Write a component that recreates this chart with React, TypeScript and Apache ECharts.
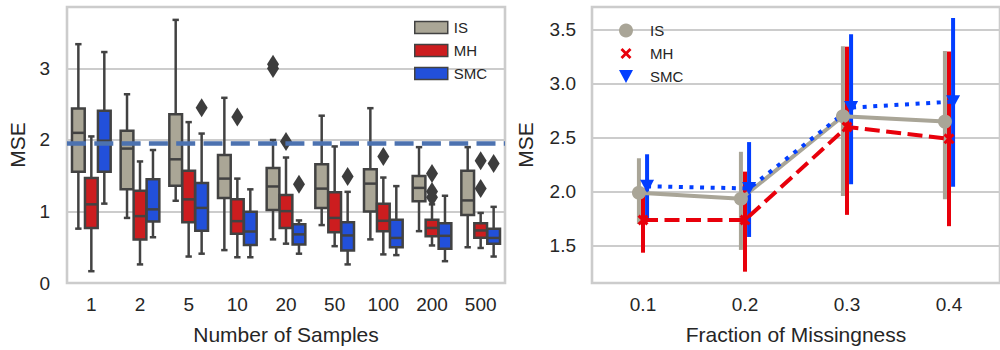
import React, { useEffect, useRef } from "react";
import * as echarts from "echarts";

// ---------- Left panel data (box plots) ----------
const SAMPLE_LABELS = ["1", "2", "5", "10", "20", "50", "100", "200", "500"];
// [low whisker, Q1, median, Q3, high whisker]
const IS_BOX = [
  [0.76, 1.555, 2.1, 2.44, 3.34],
  [0.91, 1.31, 1.88, 2.13, 2.64],
  [1.15, 1.36, 1.73, 2.36, 3.68],
  [0.46, 1.19, 1.46, 1.79, 2.59],
  [0.61, 1.02, 1.35, 1.61, 2.0],
  [0.81, 1.05, 1.32, 1.66, 2.34],
  [0.61, 1.0, 1.39, 1.59, 2.445],
  [0.725, 1.145, 1.33, 1.495, 1.9],
  [0.5, 0.95, 1.155, 1.57, 1.9],
];
const MH_BOX = [
  [0.165, 0.77, 1.1, 1.47, 2.05],
  [0.26, 0.61, 0.935, 1.29, 1.7],
  [0.37, 0.85, 1.17, 1.57, 2.25],
  [0.36, 0.69, 0.865, 1.17, 1.46],
  [0.55, 0.77, 1.005, 1.23, 1.755],
  [0.515, 0.71, 0.91, 1.27, 1.91],
  [0.4, 0.725, 0.87, 1.11, 1.475],
  [0.525, 0.655, 0.77, 0.885, 1.1],
  [0.49, 0.632, 0.735, 0.836, 0.98],
];
const SMC_BOX = [
  [1.11, 1.555, 1.99, 2.41, 3.23],
  [0.64, 0.86, 1.03, 1.45, 1.86],
  [0.41, 0.73, 1.05, 1.4, 2.09],
  [0.36, 0.53, 0.72, 0.995, 1.31],
  [0.41, 0.54, 0.68, 0.82, 0.875],
  [0.26, 0.455, 0.665, 0.85, 1.275],
  [0.39, 0.5, 0.63, 0.885, 1.355],
  [0.305, 0.478, 0.66, 0.836, 1.22],
  [0.37, 0.55, 0.63, 0.76, 1.065],
];
// outliers: [category index, value]
const IS_OUT = [
  [4, 3.0],
  [4, 3.06],
];
const MH_OUT = [
  [3, 2.32],
  [4, 1.98],
  [6, 1.77],
  [7, 1.53],
  [7, 1.28],
  [7, 1.2],
  [8, 1.71],
  [8, 1.32],
];
const SMC_OUT = [
  [2, 2.45],
  [4, 1.38],
  [5, 1.49],
  [8, 1.67],
];
const BASELINE = 1.955;

// ---------- Right panel data (point plot) ----------
const FRACTIONS = ["0.1", "0.2", "0.3", "0.4"];
const IS_MEAN = [1.99, 1.935, 2.7, 2.65];
const IS_LO = [1.7, 1.46, 1.96, 1.93];
const IS_HI = [2.31, 2.37, 3.35, 3.305];
const MH_MEAN = [1.737, 1.737, 2.6, 2.49];
const MH_LO = [1.434, 1.258, 1.785, 1.68];
const MH_HI = [2.03, 2.186, 3.345, 3.3];
const SMC_MEAN = [2.05, 2.03, 2.78, 2.835];
const SMC_LO = [1.753, 1.58, 2.07, 2.046];
const SMC_HI = [2.347, 2.46, 3.46, 3.61];

const FONT = "'Liberation Sans', Arial, Helvetica, sans-serif";
const TXT = "#262626";
const EDGE = "#424242";
const GRID = "#cccccc";
const C_IS_BOX = "#aaa696";
const C_MH_BOX = "#cc1d1f";
const C_SMC_BOX = "#2250da";
const C_IS = "#a9a597";
const C_MH = "#e8000b";
const C_SMC = "#023eff";

const X_PATH =
  "path://M0,0 M1.5,1.5 L5,5 L8.5,1.5 L10.5,3.5 L7,7 L10.5,10.5 L8.5,12.5 L5,9 L1.5,12.5 L-0.5,10.5 L3,7 L-0.5,3.5 Z M10,14";
const X_SYM = "path://M2,0 L5,3 L8,0 L10,2 L7,5 L10,8 L8,10 L5,7 L2,10 L0,8 L3,5 L0,2 Z";
const TRI_DOWN = "path://M0,0 L14,0 L7,13 Z";

function boxRender(k: number, color: string) {
  return (params: any, api: any) => {
    const i = api.value(0);
    const band = api.size([1, 0])[0];
    const bw = (band * 0.8) / 3;
    const cx = api.coord([i, 0])[0] + k * bw;
    const yy = (j: number) => api.coord([i, api.value(j)])[1];
    const yLow = yy(1),
      yQ1 = yy(2),
      yMed = yy(3),
      yQ3 = yy(4),
      yHigh = yy(5);
    const w = bw * 0.98;
    const cap = w / 4;
    const ls = { stroke: EDGE, lineWidth: 2.5 };
    return {
      type: "group",
      children: [
        { type: "line", shape: { x1: cx, y1: yQ1, x2: cx, y2: yLow }, style: ls },
        { type: "line", shape: { x1: cx, y1: yQ3, x2: cx, y2: yHigh }, style: ls },
        { type: "line", shape: { x1: cx - cap, y1: yLow, x2: cx + cap, y2: yLow }, style: ls },
        { type: "line", shape: { x1: cx - cap, y1: yHigh, x2: cx + cap, y2: yHigh }, style: ls },
        {
          type: "rect",
          shape: { x: cx - w / 2, y: yQ3, width: w, height: yQ1 - yQ3 },
          style: { fill: color, stroke: EDGE, lineWidth: 2.5 },
        },
        { type: "line", shape: { x1: cx - w / 2, y1: yMed, x2: cx + w / 2, y2: yMed }, style: ls },
      ],
    };
  };
}

function outlierRender(k: number) {
  return (params: any, api: any) => {
    const i = api.value(0);
    const band = api.size([1, 0])[0];
    const bw = (band * 0.8) / 3;
    const p = api.coord([i, api.value(1)]);
    const cx = p[0] + k * bw;
    const cy = p[1];
    return {
      type: "polygon",
      shape: {
        points: [
          [cx, cy - 9.5],
          [cx + 6, cy],
          [cx, cy + 9.5],
          [cx - 6, cy],
        ],
      },
      style: { fill: "#3d3d3d" },
    };
  };
}

function errRender(color: string) {
  return (params: any, api: any) => {
    const x = api.value(0);
    const p1 = api.coord([x, api.value(1)]);
    const p2 = api.coord([x, api.value(2)]);
    return {
      type: "line",
      shape: { x1: p1[0], y1: p1[1], x2: p2[0], y2: p2[1] },
      style: { stroke: color, lineWidth: 4 },
    };
  };
}

const DODGE = 0.04;

function boxSeries(name: string, stats: number[][], k: number, color: string, extra: any = {}) {
  return {
    type: "custom",
    name,
    xAxisIndex: 0,
    yAxisIndex: 0,
    renderItem: boxRender(k, color),
    encode: { x: 0, y: [1, 2, 3, 4, 5] },
    itemStyle: { color },
    data: stats.map((s, i) => [i, ...s]),
    z: 2,
    ...extra,
  };
}

function outSeries(name: string, pts: number[][], k: number) {
  return {
    type: "custom",
    name: name + "_out",
    xAxisIndex: 0,
    yAxisIndex: 0,
    renderItem: outlierRender(k),
    encode: { x: 0, y: 1 },
    data: pts,
    z: 3,
  };
}

function errSeries(name: string, lo: number[], hi: number[], k: number, color: string) {
  return {
    type: "custom",
    name,
    xAxisIndex: 1,
    yAxisIndex: 1,
    renderItem: errRender(color),
    encode: { x: 0, y: [1, 2] },
    itemStyle: { color },
    data: lo.map((l, i) => [i + k * DODGE, l, hi[i]]),
    z: 2,
  };
}

function lineSeries(name: string, mean: number[], k: number, color: string, type: any, symbol: string, size: any) {
  return {
    type: "line",
    name,
    xAxisIndex: 1,
    yAxisIndex: 1,
    data: mean.map((m, i) => [i + k * DODGE, m]),
    lineStyle: { color, width: 4, type },
    itemStyle: { color },
    symbol,
    symbolSize: size,
    showSymbol: true,
    z: 2,
  };
}

export default function App() {
  const ref = useRef<HTMLDivElement>(null);
  useEffect(() => {
    if (!ref.current) return;
    const chart = echarts.init(ref.current, null, { renderer: "svg" });
    const axisLabel = { color: TXT, fontSize: 19, fontFamily: FONT };
    const nameStyle = { color: TXT, fontSize: 21, fontFamily: FONT };
    chart.setOption({
      animation: false,
      textStyle: { fontFamily: FONT },
      grid: [
        { left: 67, top: 7, width: 438, height: 276, show: true, borderColor: GRID, borderWidth: 2.6, backgroundColor: "transparent" },
        { left: 592, top: 7, width: 418, height: 276, show: true, borderColor: GRID, borderWidth: 2.6, backgroundColor: "transparent" },
      ],
      xAxis: [
        {
          type: "category",
          gridIndex: 0,
          data: SAMPLE_LABELS,
          axisTick: { show: false },
          axisLine: { show: false },
          axisLabel: { ...axisLabel, margin: 12 },
          splitLine: { show: false },
          name: "Number of Samples",
          nameLocation: "middle",
          nameGap: 41,
          nameTextStyle: nameStyle,
        },
        {
          type: "value",
          gridIndex: 1,
          min: -0.5,
          max: 3.5,
          axisTick: { show: false },
          axisLine: { show: false },
          splitLine: { show: false },
          axisLabel: {
            ...axisLabel,
            margin: 12,
            customValues: [0, 1, 2, 3],
            formatter: (v: number) => FRACTIONS[Math.round(v)] ?? "",
          },
          name: "Fraction of Missingness",
          nameLocation: "middle",
          nameGap: 41,
          nameTextStyle: nameStyle,
        },
      ],
      yAxis: [
        {
          type: "value",
          gridIndex: 0,
          min: 0,
          max: 3.86,
          splitNumber: 4,
          axisTick: { show: false },
          axisLine: { show: false },
          axisLabel: { ...axisLabel, margin: 17, showMaxLabel: false },
          splitLine: { show: true, lineStyle: { color: GRID, width: 1.8 } },
          name: "MSE",
          nameLocation: "middle",
          nameGap: 39,
          nameTextStyle: nameStyle,
        },
        {
          type: "value",
          gridIndex: 1,
          min: 1.153,
          max: 3.713,
          splitNumber: 5,
          axisTick: { show: false },
          axisLine: { show: false },
          axisLabel: {
            ...axisLabel,
            margin: 16,
            showMaxLabel: false,
            showMinLabel: false,
            formatter: (v: number) => v.toFixed(1),
          },
          splitLine: { show: true, lineStyle: { color: GRID, width: 1.8 } },
          name: "MSE",
          nameLocation: "middle",
          nameGap: 56,
          nameTextStyle: nameStyle,
        },
      ],
      legend: [
        {
          orient: "vertical",
          left: 409,
          top: 15,
          itemWidth: 33,
          itemHeight: 12,
          itemGap: 8,
          textStyle: { color: TXT, fontSize: 15, fontFamily: FONT, padding: [0, 0, 0, 1] },
          data: [
            { name: "IS", icon: "rect", itemStyle: { color: C_IS_BOX, borderColor: EDGE, borderWidth: 1.5 } },
            { name: "MH", icon: "rect", itemStyle: { color: C_MH_BOX, borderColor: EDGE, borderWidth: 1.5 } },
            { name: "SMC", icon: "rect", itemStyle: { color: C_SMC_BOX, borderColor: EDGE, borderWidth: 1.5 } },
          ],
          selectedMode: false,
        },
        {
          orient: "vertical",
          left: 614,
          top: 18,
          itemWidth: 14,
          itemHeight: 14,
          itemGap: 8,
          textStyle: { color: TXT, fontSize: 15, fontFamily: FONT, padding: [0, 0, 0, 12] },
          data: [
            { name: "IS", icon: "circle", itemStyle: { color: C_IS, borderWidth: 0 } },
            { name: "MH", icon: X_PATH, itemStyle: { color: C_MH, borderWidth: 0 } },
            { name: "SMC", icon: TRI_DOWN, itemStyle: { color: C_SMC, borderWidth: 0 } },
          ],
          selectedMode: false,
        },
      ],
      series: [
        boxSeries("IS", IS_BOX, -1, C_IS_BOX, {
          markLine: {
            silent: true,
            symbol: ["none", "none"],
            label: { show: false },
            lineStyle: { color: "#4c72b0", width: 4.5, type: [19, 8.3] },
            data: [{ yAxis: BASELINE }],
            z: 10,
          },
        }),
        boxSeries("MH", MH_BOX, 0, C_MH_BOX),
        boxSeries("SMC", SMC_BOX, 1, C_SMC_BOX),
        outSeries("IS", IS_OUT, -1),
        outSeries("MH", MH_OUT, 0),
        outSeries("SMC", SMC_OUT, 1),
        errSeries("IS", IS_LO, IS_HI, -1, C_IS),
        lineSeries("IS", IS_MEAN, -1, C_IS, "solid", "circle", 14),
        errSeries("MH", MH_LO, MH_HI, 0, C_MH),
        lineSeries("MH", MH_MEAN, 0, C_MH, [15, 6.5], X_SYM, 11),
        errSeries("SMC", SMC_LO, SMC_HI, 1, C_SMC),
        lineSeries("SMC", SMC_MEAN, 1, C_SMC, [4, 6.6], TRI_DOWN, [14, 13]),
      ],
    });
    return () => chart.dispose();
  }, []);
  return (
    <div
      ref={ref}
      style={{ position: "absolute", left: 0, top: 0, width: 1000, height: 350, background: "#ffffff" }}
    />
  );
}
